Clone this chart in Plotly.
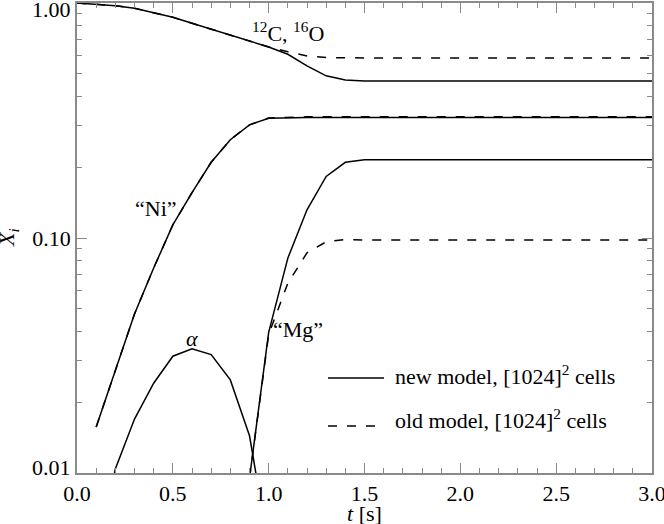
import math
import plotly.graph_objects as go

# time grid (s)
t_co = [0.0, 0.1, 0.2, 0.3, 0.4, 0.5, 0.6, 0.7, 0.8, 0.9, 1.0, 1.1, 1.2, 1.3, 1.4, 1.5, 2.0, 2.5, 3.0]
co_new = [1.0, 0.99, 0.974, 0.95, 0.91, 0.869, 0.82, 0.774, 0.732, 0.693, 0.65, 0.605, 0.54, 0.49, 0.47, 0.466, 0.466, 0.466, 0.466]
co_old = [1.0, 0.99, 0.974, 0.95, 0.91, 0.869, 0.82, 0.774, 0.732, 0.693, 0.65, 0.62, 0.595, 0.586, 0.584, 0.584, 0.584, 0.584, 0.584]

t_ni = [0.1, 0.2, 0.3, 0.4, 0.5, 0.6, 0.7, 0.8, 0.9, 1.0, 1.1, 1.2, 1.5, 2.0, 2.5, 3.0]
ni_new = [0.0157, 0.0275, 0.0475, 0.0745, 0.1137, 0.156, 0.210, 0.262, 0.303, 0.323, 0.325, 0.326, 0.326, 0.326, 0.326, 0.326]
ni_old = [0.0157, 0.0275, 0.0475, 0.0745, 0.1137, 0.156, 0.210, 0.262, 0.303, 0.324, 0.327, 0.328, 0.328, 0.328, 0.328, 0.328]

t_mg = [0.9, 1.0, 1.1, 1.2, 1.3, 1.4, 1.5, 2.0, 2.5, 3.0]
mg_new = [0.0095, 0.0397, 0.0821, 0.1318, 0.1828, 0.210, 0.2154, 0.2154, 0.2154, 0.2154]
mg_old = [0.0095, 0.0389, 0.0642, 0.0865, 0.0963, 0.0985, 0.098, 0.098, 0.098, 0.098]

t_alpha = [0.1, 0.2, 0.3, 0.4, 0.5, 0.6, 0.7, 0.8, 0.9, 1.0]
alpha_new = [0.004, 0.0104, 0.01696, 0.0241, 0.0314, 0.0338, 0.0319, 0.0249, 0.0144, 0.0048]

y_tickvals = [0.01, 0.1, 1.0]
y_ticktext = ["", "0.10", ""]
y_edge_labels = ["0.01", "1.00"]
x_tickvals = [0.0, 0.5, 1.0, 1.5, 2.0, 2.5, 3.0]
x_ticktext = ["0.0", "0.5", "1.0", "1.5", "2.0", "2.5", "3.0"]

FONT = "Liberation Serif, Times New Roman, serif"
FS = 22
DASH = "9px,10px"
AX = "#8a8a8a"

fig = go.Figure()

def add(x, y, dash):
    fig.add_trace(go.Scatter(x=x, y=y, mode="lines", showlegend=False,
                             line=dict(color="black", width=1.5, dash=dash),
                             hoverinfo="skip"))

add(t_co, co_new, "solid")
add(t_co, co_old, DASH)
add(t_ni, ni_old, DASH)
add(t_ni, ni_new, "solid")
add(t_mg, mg_old, DASH)
add(t_mg, mg_new, "solid")
add(t_alpha, alpha_new, "solid")

y_minor = [m * 10 ** e for e in (-2, -1) for m in range(2, 10)]
x_minor = [i / 10 for i in range(31) if i % 5 != 0]

axis_common = dict(showgrid=False, zeroline=False, showline=True, linecolor=AX,
                   linewidth=1.5, ticks="inside", tickcolor=AX, tickwidth=1,
                   mirror="ticks", automargin=False, ticklabeloverflow="allow",
                   tickfont=dict(family=FONT, size=FS, color="black"))

fig.update_xaxes(range=[0, 3.0], tickvals=x_tickvals, ticktext=x_ticktext, ticklen=10,
                 minor=dict(tickvals=x_minor, ticks="inside", ticklen=5, tickcolor=AX),
                 **axis_common)
fig.update_yaxes(type="log", range=[-2, 0], tickvals=y_tickvals, ticktext=y_ticktext, ticklen=10,
                 minor=dict(tickvals=y_minor, ticks="inside", ticklen=5, tickcolor=AX),
                 **axis_common)

ann_font = dict(family=FONT, size=FS, color="black")

# y tick labels at the ends of the axis (kept inside the page like the original)
fig.add_annotation(xref="paper", yref="paper", x=0, xshift=-4, y=0, yshift=-9,
                   xanchor="right", yanchor="bottom", text=y_edge_labels[0],
                   showarrow=False, font=ann_font)
fig.add_annotation(xref="paper", yref="paper", x=0, xshift=-4, y=1, yshift=8,
                   xanchor="right", yanchor="top", text=y_edge_labels[1],
                   showarrow=False, font=ann_font)

labels = [
    (1.10, 0.752, "<sup>12</sup>C, <sup>16</sup>O"),
    (0.413, 0.134, "\u201cNi\u201d"),
    (0.598, 0.0375, "<i>\u03b1</i>"),
    (1.153, 0.0409, "\u201cMg\u201d"),
]
for x, y, txt in labels:
    fig.add_annotation(x=x, y=math.log10(y), yref="y", xref="x", text=txt,
                       showarrow=False, font=ann_font)

# axis titles
fig.add_annotation(xref="paper", yref="paper", x=0.5, y=-0.087, xanchor="center", yanchor="middle",
                   text="<i>t</i> [s]", showarrow=False, font=ann_font)
fig.add_annotation(xref="paper", yref="paper", x=-0.12, y=0.5, xanchor="center", yanchor="middle",
                   text="<i>X<sub>i</sub></i>", textangle=-90, showarrow=False, font=ann_font)

# legend (drawn manually)
fig.add_shape(type="line", xref="paper", yref="paper", x0=0.4365, x1=0.534, y0=0.2021, y1=0.2021,
              line=dict(color="black", width=1.5))
fig.add_shape(type="line", xref="paper", yref="paper", x0=0.4365, x1=0.534, y0=0.10, y1=0.10,
              line=dict(color="black", width=1.5, dash=DASH))
fig.add_annotation(xref="paper", yref="paper", x=0.5496, y=0.2085, xanchor="left", yanchor="middle",
                   text="new model, [1024]<sup>2</sup> cells", showarrow=False, font=ann_font)
fig.add_annotation(xref="paper", yref="paper", x=0.5496, y=0.1149, xanchor="left", yanchor="middle",
                   text="old model, [1024]<sup>2</sup> cells", showarrow=False, font=ann_font)

fig.update_layout(width=664, height=524, margin=dict(l=77, r=12, t=3, b=51),
                  paper_bgcolor="white", plot_bgcolor="white", showlegend=False,
                  font=dict(family=FONT, size=FS, color="black"))

fig.write_html("out.html", config={"displayModeBar": False},
               post_script="document.body.style.margin='0';document.body.style.overflow='hidden';")
